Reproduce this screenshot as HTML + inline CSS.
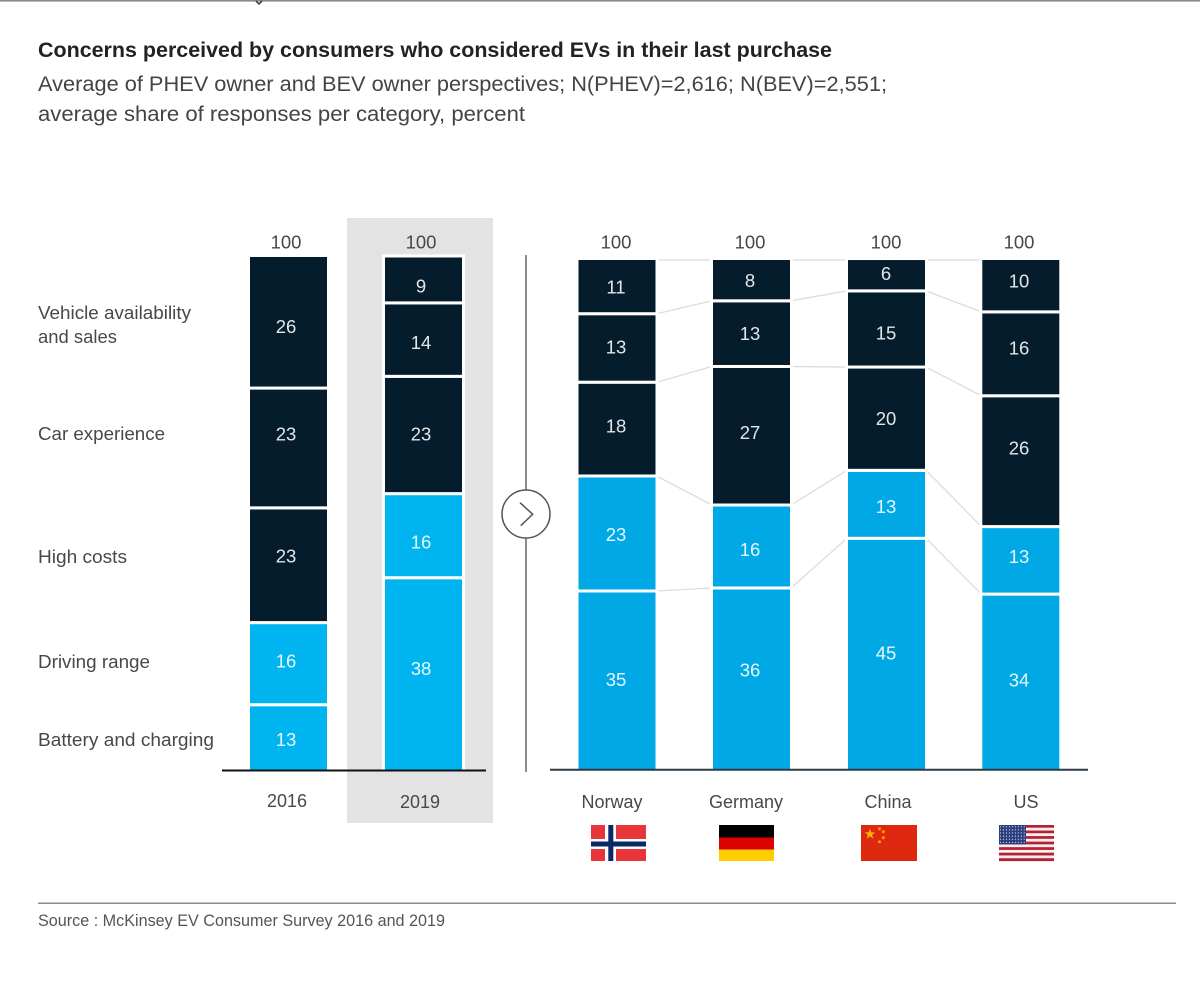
<!DOCTYPE html>
<html lang="en">
<head>
<meta charset="utf-8">
<title>Concerns perceived by consumers who considered EVs</title>
<style>
html,body{margin:0;padding:0;background:#fff;width:1200px;height:983px;overflow:hidden}
svg{display:block}
text{font-family:"Liberation Sans",Arial,sans-serif}
.title{font-size:21px;font-weight:700;fill:#222}
.sub{font-size:21px;fill:#444}
.cat{font-size:18px;fill:#484848}
.tick{font-size:18px;fill:#484848}
.total{font-size:18.5px;fill:#484848}
.val{font-size:18.5px}
.src{font-size:16.5px;fill:#555}
</style>
</head>
<body>
<svg id="chart" xmlns="http://www.w3.org/2000/svg" width="1200" height="983" viewBox="0 0 1200 983">
  <defs>
    <clipPath id="above-baseline"><rect x="0" y="0" width="1200" height="771"/></clipPath>
  </defs>
  <rect x="0" y="0" width="1200" height="983" fill="#fff"/>
  <rect x="0" y="0" width="1200" height="1.6" fill="#8a8a8a"/>
  <path d="M256 1 L259 4 L262 1" fill="none" stroke="#333" stroke-width="1.5"/>

  <text class="title" x="38" y="57" textLength="794" lengthAdjust="spacingAndGlyphs">Concerns perceived by consumers who considered EVs in their last purchase</text>
  <text class="sub" x="38" y="91" textLength="849" lengthAdjust="spacingAndGlyphs">Average of PHEV owner and BEV owner perspectives; N(PHEV)=2,616; N(BEV)=2,551;</text>
  <text class="sub" x="38" y="121" textLength="487" lengthAdjust="spacingAndGlyphs">average share of responses per category, percent</text>

  <rect x="347" y="218" width="146" height="605" fill="#e3e3e3"/>

  <text class="cat" x="38" y="319" textLength="153" lengthAdjust="spacingAndGlyphs">Vehicle availability</text>
  <text class="cat" x="38" y="343" textLength="79" lengthAdjust="spacingAndGlyphs">and sales</text>
  <text class="cat" x="38" y="440" textLength="127" lengthAdjust="spacingAndGlyphs">Car experience</text>
  <text class="cat" x="38" y="563" textLength="89" lengthAdjust="spacingAndGlyphs">High costs</text>
  <text class="cat" x="38" y="668" textLength="112" lengthAdjust="spacingAndGlyphs">Driving range</text>
  <text class="cat" x="38" y="746" textLength="176" lengthAdjust="spacingAndGlyphs">Battery and charging</text>

  <g id="connectors"></g>
  <g id="bars" clip-path="url(#above-baseline)"></g>
  <g id="labels"></g>

  <line x1="222" y1="770.5" x2="486" y2="770.5" stroke="#111" stroke-width="2"/>
  <line x1="550" y1="769.7" x2="1088" y2="769.7" stroke="#2b3a44" stroke-width="2"/>

  <line x1="526" y1="255" x2="526" y2="772" stroke="#666" stroke-width="1.5"/>
  <g>
    <circle cx="526" cy="514" r="24" fill="#fff" stroke="#555" stroke-width="1.5"/>
    <path d="M520 502.7 L532.7 514.3 L520.7 525.7" fill="none" stroke="#555" stroke-width="1.5"/>
  </g>

  <g>
    <rect x="591" y="825" width="55" height="36" fill="#e8353a"/>
    <rect x="605" y="825" width="11" height="36" fill="#fff"/>
    <rect x="591" y="839" width="55" height="10" fill="#fff"/>
    <rect x="608.3" y="825" width="5" height="36" fill="#0a2a66"/>
    <rect x="591" y="841.5" width="55" height="5" fill="#0a2a66"/>
  </g>
  <g>
    <rect x="719" y="825" width="55" height="12.5" fill="#000"/>
    <rect x="719" y="837.5" width="55" height="12" fill="#dd0000"/>
    <rect x="719" y="849.5" width="55" height="11.5" fill="#ffce00"/>
  </g>
  <g>
    <rect x="861" y="825" width="56" height="36" fill="#de2910"/>
    <polygon points="870,828.5 871.3,832.4 875.4,832.4 872.1,834.8 873.3,838.7 870,836.3 866.7,838.7 867.9,834.8 864.6,832.4 868.7,832.4" fill="#ffb400"/>
    <circle cx="879.5" cy="828.7" r="1.5" fill="#ff9d00"/>
    <circle cx="883.3" cy="831.7" r="1.5" fill="#ff9d00"/>
    <circle cx="883.3" cy="837.7" r="1.5" fill="#ff9d00"/>
    <circle cx="879.5" cy="841.7" r="1.5" fill="#ff9d00"/>
  </g>
  <g id="flag-us"></g>

  <line x1="38" y1="903.3" x2="1176" y2="903.3" stroke="#8a8a8a" stroke-width="1.5"/>
  <text class="src" x="38" y="926" textLength="407" lengthAdjust="spacingAndGlyphs">Source : McKinsey EV Consumer Survey 2016 and 2019</text>
</svg>

<script>
// Chart data: percent share per bar, listed bottom segment to top segment.
const barNames = ['2016', '2019', 'Norway', 'Germany', 'China', 'US'];
const batteryCharging = [12.8, 37.7, 35.1, 35.69, 45.43, 34.49];
const drivingRange = [16.1, 16.49, 22.55, 16.27, 13.33, 13.24];
const highCosts = [22.5, 23.0, 18.39, 27.16, 20.25, 25.65];
const carExperience = [23.49, 14.4, 13.43, 12.88, 14.94, 16.45];
const vehicleAvailability = [25.7, 8.9, 10.53, 8.0, 6.04, 10.17];
const printedTotals = [100, 100, 100, 100, 100, 100];

(function () {
  var NS = 'http://www.w3.org/2000/svg';
  var baselineY = 770;
  var pxPerPercent = 5.1;
  var barWidth = 77;
  var barLeft = [250, 385, 578.5, 713, 848, 982.3];
  var axisCenter = [287, 420, 612, 746, 888, 1026];
  var labelCenter = [286, 421, 616, 750, 886, 1019];
  var axisLabelY = [801, 802, 802, 802, 802, 802];
  var seriesList = [batteryCharging, drivingRange, highCosts, carExperience, vehicleAvailability];
  var seriesKeys = ['battery-charging', 'driving-range', 'high-costs', 'car-experience', 'vehicle-availability'];
  var darkColor = '#051c2c';
  // Manual label nudges (px) relative to segment centre, to mirror the source layout.
  var nudges = [
    [2, -2.5, -9, -14, 4],
    [-5.5, 6.5, -1, 3, 6],
    [-1, 1, -3, -1, 0],
    [-9, 3, -3, 0, 0],
    [-1, 2, 0, 4, -2],
    [-2, -4, -13, -6, -5]
  ];

  function y(v) { return baselineY - v * pxPerPercent; }
  function h(v) { return v * pxPerPercent; }

  function make(parent, tag, attrs, text) {
    var el = document.createElementNS(NS, tag);
    Object.keys(attrs).forEach(function (k) { el.setAttribute(k, attrs[k]); });
    if (text !== undefined) el.textContent = text;
    parent.appendChild(el);
    return el;
  }

  var barsG = document.getElementById('bars');
  var labelsG = document.getElementById('labels');
  var connG = document.getElementById('connectors');
  var boundaries = [];

  barNames.forEach(function (name, b) {
    var cum = 0;
    boundaries[b] = [];
    var lightColor = b < 2 ? '#00b4ef' : '#00a9e6';
    seriesList.forEach(function (series, s) {
      var v = series[b];
      var top = cum + v;
      var isLight = s < 2;
      var isTop = s === seriesList.length - 1;
      var isBottom = s === 0;
      // The white stroke insets each fill by 1.5px; outer edges compensate for it.
      var rect = make(barsG, 'rect', {
        x: barLeft[b] - 1.5,
        y: y(top) - (isTop ? 1.5 : 0),
        width: barWidth + 3,
        height: h(v) + (isTop ? 1.5 : 0) + (isBottom ? 1.5 : 0),
        fill: isLight ? lightColor : darkColor,
        stroke: '#fff',
        'stroke-width': 3
      });
      
      

      var label = make(labelsG, 'text', {
        'class': 'val',
        x: labelCenter[b],
        y: y(cum + v / 2) + nudges[b][s],
        'text-anchor': 'middle',
        'dominant-baseline': 'central',
        fill: isLight ? '#e6f7fd' : '#e3e6e8'
      }, String(Math.round(v)));
      
      

      cum = top;
      boundaries[b].push(y(cum));
    });

    var total = make(labelsG, 'text', {
      'class': 'total',
      x: labelCenter[b],
      y: 242,
      'text-anchor': 'middle',
      'dominant-baseline': 'central'
    }, String(printedTotals[b]));
    
    

    var tick = make(labelsG, 'text', {
      'class': 'tick',
      x: axisCenter[b],
      y: axisLabelY[b],
      'text-anchor': 'middle',
      'dominant-baseline': 'central'
    }, name);
    
    
  });

  // Connector lines between the four country bars
  for (var b = 2; b < barNames.length - 1; b++) {
    for (var s = 0; s < seriesList.length; s++) {
      var line = make(connG, 'line', {
        x1: barLeft[b] + barWidth + 1,
        y1: boundaries[b][s],
        x2: barLeft[b + 1] - 1,
        y2: boundaries[b + 1][s],
        stroke: '#dcdcdc',
        'stroke-width': 1.3
      });
      
      
    }
  }

  // US flag
  var us = document.getElementById('flag-us');
  var fx = 999, fy = 825, fw = 55, fh = 36, sh = fh / 13;
  for (var i = 0; i < 13; i++) {
    var stripe = make(us, 'rect', {
      x: fx, y: fy + i * sh, width: fw, height: sh + 0.1,
      fill: i % 2 === 0 ? '#b22234' : '#fbeef0'
    });
    
    
  }
  var canton = make(us, 'rect', { x: fx, y: fy, width: 27, height: sh * 7, fill: '#2b3f7e' });
  
  
  for (var r = 0; r < 6; r++) {
    for (var c = 0; c < 9; c++) {
      var star = make(us, 'circle', {
        cx: fx + 1.6 + c * 2.95,
        cy: fy + 1.8 + r * 3.1,
        r: 0.6,
        fill: '#d8def0'
      });
      
      
    }
  }
})();
</script>
</body>
</html>
